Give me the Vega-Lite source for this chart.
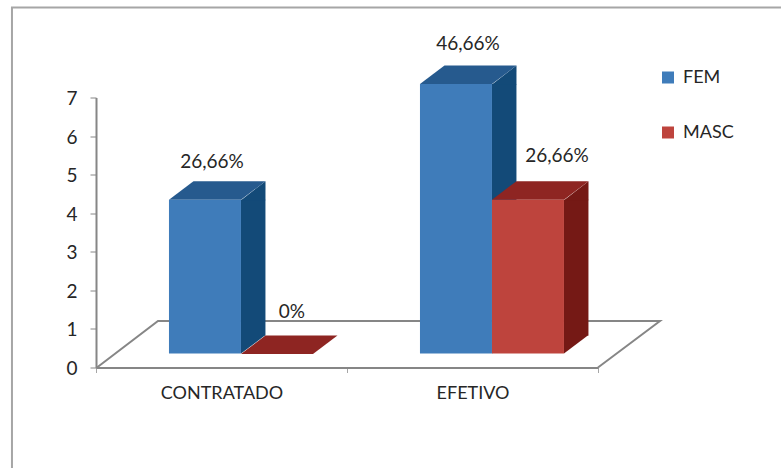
{
  "$schema": "https://vega.github.io/schema/vega-lite/v6.json",
  "width": 502,
  "height": 270,
  "autosize": "none",
  "padding": {"left": 96, "top": 97.5, "right": 183, "bottom": 100.5},
  "background": "white",
  "config": {
    "view": {"stroke": null},
    "font": "Lato",
    "text": {"font": "Lato", "fontSize": 19, "color": "#262626"}
  },
  "data": {
    "values": [
      {"categoria": "CONTRATADO", "serie": "FEM", "valor": 4, "rotulo": "26,66%"},
      {"categoria": "CONTRATADO", "serie": "MASC", "valor": 0, "rotulo": "0%"},
      {"categoria": "EFETIVO", "serie": "FEM", "valor": 7, "rotulo": "46,66%"},
      {"categoria": "EFETIVO", "serie": "MASC", "valor": 4, "rotulo": "26,66%"}
    ]
  },
  "encoding": {
    "x": {
      "field": "categoria",
      "type": "nominal",
      "title": null,
      "scale": {"type": "band", "paddingInner": 0, "paddingOuter": 0},
      "axis": {
        "labelAngle": 0,
        "tickBand": "extent",
        "tickSize": 5,
        "tickColor": "#a6a6a6",
        "domainColor": "#868686",
        "domainWidth": 2,
        "labelFontSize": 18,
        "labelColor": "#262626",
        "labelFont": "Lato",
        "labelPadding": 12,
        "grid": false
      }
    },
    "xOffset": {
      "field": "serie",
      "type": "nominal",
      "scale": {"type": "band", "domain": ["FEM", "MASC"], "paddingInner": 0, "paddingOuter": 0.743, "align": 0.682}
    },
    "y": {
      "field": "valor",
      "type": "quantitative",
      "title": null,
      "scale": {"domain": [0, 7], "nice": false},
      "axis": {
        "values": [0, 1, 2, 3, 4, 5, 6, 7],
        "format": "d",
        "tickSize": 6,
        "tickColor": "#868686",
        "domainColor": "#868686",
        "domainWidth": 2,
        "labelFontSize": 19,
        "labelColor": "#262626",
        "labelFont": "Lato",
        "labelPadding": 13,
        "labelOffset": 1,
        "grid": false
      }
    }
  },
  "layer": [
    {
      "description": "Chart frame, left and top edges only",
      "transform": [{"filter": "datum.categoria === 'EFETIVO' && datum.serie === 'FEM'"}],
      "mark": {"type": "point", "filled": false, "size": 4, "stroke": "#a6a6a6", "strokeWidth": 2, "opacity": 1,
        "shape": "M-444,105L-444,-360L325,-360"},
      "encoding": {"y": {"datum": 0}}
    },
    {
      "description": "Floor of the 3D plot",
      "transform": [{"filter": "datum.categoria === 'EFETIVO' && datum.serie === 'FEM'"}],
      "mark": {"type": "point", "filled": false, "size": 4, "stroke": "#868686", "strokeWidth": 2, "opacity": 1,
        "shape": "M-359,0L-298,-46.5L204,-46.5L142,0"},
      "encoding": {"y": {"datum": 0}}
    },
    {
      "description": "Side face body, slid along its own offset scale",
      "transform": [{"filter": "datum.valor > 0"}],
      "mark": {"type": "bar", "width": 24.5, "yOffset": -13.5, "y2Offset": -32},
      "encoding": {
        "xOffset": {
          "field": "serie",
          "type": "nominal",
          "scale": {"type": "band", "domain": ["FEM", "MASC"], "paddingInner": 0, "paddingOuter": 0, "range": [121.2, 265.2]}
        },
        "y2": {"datum": 0},
        "color": {"field": "serie", "type": "nominal", "legend": null,
          "scale": {"domain": ["FEM", "MASC"], "range": ["#134A78", "#751915"]}}
      }
    },
    {
      "description": "Side face upper wedge",
      "transform": [{"filter": "datum.valor > 0"}],
      "mark": {"type": "point", "filled": true, "size": 4, "opacity": 1, "yOffset": -13.5,
        "shape": "M36,0.5L60.5,0.5L60.5,-18.5Z"},
      "encoding": {
        "color": {"field": "serie", "type": "nominal", "legend": null,
          "scale": {"domain": ["FEM", "MASC"], "range": ["#134A78", "#751915"]}}
      }
    },
    {
      "description": "Side face lower wedge",
      "transform": [{"filter": "datum.valor > 0"}],
      "mark": {"type": "point", "filled": true, "size": 4, "opacity": 1, "yOffset": -14,
        "shape": "M36,0L36,-18.5L60.5,-18.5Z"},
      "encoding": {
        "y": {"datum": 0},
        "color": {"field": "serie", "type": "nominal", "legend": null,
          "scale": {"domain": ["FEM", "MASC"], "range": ["#134A78", "#751915"]}}
      }
    },
    {
      "description": "Top faces",
      "mark": {"type": "point", "filled": true, "size": 4, "opacity": 1, "yOffset": -13.5,
        "shape": "M-36,0L36,0L60.5,-18.5L-11.5,-18.5Z"},
      "encoding": {
        "color": {"field": "serie", "type": "nominal", "legend": null,
          "scale": {"domain": ["FEM", "MASC"], "range": ["#265A8E", "#8E2522"]}}
      }
    },
    {
      "description": "Front faces, which also carry the legend",
      "transform": [{"filter": "datum.valor > 0"}],
      "mark": {"type": "bar", "yOffset": -13.5, "y2Offset": -14},
      "encoding": {
        "y2": {"datum": 0},
        "color": {
          "field": "serie",
          "type": "nominal",
          "scale": {"domain": ["FEM", "MASC"], "range": ["#3F7CBA", "#BE443D"]},
          "legend": {
            "title": null,
            "orient": "none",
            "legendX": 563,
            "legendY": -29,
            "symbolType": "square",
            "symbolSize": 144,
            "symbolStrokeWidth": 0,
            "labelFontSize": 18,
            "labelFont": "Lato",
            "labelColor": "#262626",
            "labelOffset": 6,
            "rowPadding": 37
          }
        }
      }
    },
    {
      "transform": [{"filter": "datum.categoria === 'CONTRATADO' && datum.serie === 'FEM'"}],
      "mark": {"type": "text", "dx": 7, "dy": -45, "baseline": "alphabetic"},
      "encoding": {"text": {"field": "rotulo", "type": "nominal"}}
    },
    {
      "transform": [{"filter": "datum.categoria === 'CONTRATADO' && datum.serie === 'MASC'"}],
      "mark": {"type": "text", "dx": 15, "dy": -49.5, "baseline": "alphabetic"},
      "encoding": {"text": {"field": "rotulo", "type": "nominal"}}
    },
    {
      "transform": [{"filter": "datum.categoria === 'EFETIVO' && datum.serie === 'FEM'"}],
      "mark": {"type": "text", "dx": 12, "dy": -47.5, "baseline": "alphabetic"},
      "encoding": {"text": {"field": "rotulo", "type": "nominal"}}
    },
    {
      "transform": [{"filter": "datum.categoria === 'EFETIVO' && datum.serie === 'MASC'"}],
      "mark": {"type": "text", "dx": 29, "dy": -51, "baseline": "alphabetic"},
      "encoding": {"text": {"field": "rotulo", "type": "nominal"}}
    }
  ],
  "resolve": {"scale": {"color": "independent", "xOffset": "independent"}}
}
